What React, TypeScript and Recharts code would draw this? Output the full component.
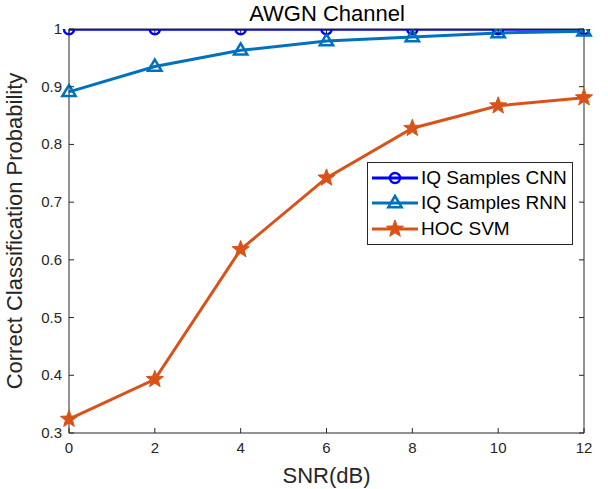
import React from 'react';
import {
  LineChart,
  Line,
  XAxis,
  YAxis,
} from 'recharts';

const snr = [0, 2, 4, 6, 8, 10, 12];
const cnnAcc = [0.9995, 0.9995, 0.9995, 0.9995, 0.9995, 0.9995, 0.9995];
const rnnAcc = [0.891, 0.935, 0.963, 0.979, 0.986, 0.993, 0.996];
const svmAcc = [0.324, 0.393, 0.618, 0.742, 0.828, 0.867, 0.881];
const yTicks = [0.3, 0.4, 0.5, 0.6, 0.7, 0.8, 0.9, 1];
const xTicks = [0, 2, 4, 6, 8, 10, 12];

const rows = snr.map((s, i) => ({ snr: s, cnn: cnnAcc[i], rnn: rnnAcc[i], svm: svmAcc[i] }));

const series = [
  { key: 'cnn', name: 'IQ Samples CNN', color: '#0000FF', marker: 'circle' },
  { key: 'rnn', name: 'IQ Samples RNN', color: '#0072BD', marker: 'triangle' },
  { key: 'svm', name: 'HOC SVM', color: '#D95319', marker: 'star' },
];

const FONT = '"Liberation Sans", Arial, sans-serif';
const AXIS = '#262626';

function starPath(cx: number, cy: number, ro: number, ri: number) {
  let d = '';
  for (let i = 0; i < 10; i++) {
    const r = i % 2 === 0 ? ro : ri;
    const a = -Math.PI / 2 + (i * Math.PI) / 5;
    d += (i === 0 ? 'M' : 'L') + (cx + r * Math.cos(a)).toFixed(2) + ',' + (cy + r * Math.sin(a)).toFixed(2);
  }
  return d + 'Z';
}

function Marker({ cx, cy, color, marker }: { cx: number; cy: number; color: string; marker: string }) {
  if (cx == null || cy == null) return null;
  if (marker === 'circle') {
    return <circle cx={cx} cy={cy} r={5} fill="none" stroke={color} strokeWidth={2.5} />;
  }
  if (marker === 'triangle') {
    const s = 7;
    return (
      <path
        d={`M${cx},${cy - s}L${cx + s * 0.95},${cy + s * 0.6}L${cx - s * 0.95},${cy + s * 0.6}Z`}
        fill="none"
        stroke={color}
        strokeWidth={2.5}
      />
    );
  }
  return <path d={starPath(cx, cy, 9, 3.8)} fill={color} stroke={color} strokeWidth={1} />;
}

const makeDot = (color: string, marker: string) => (props: any) => (
  <Marker key={props.index} cx={props.cx} cy={props.cy} color={color} marker={marker} />
);

const BottomTick = (props: any) => {
  const { x, y, payload } = props;
  const axisY = y - 8;
  return (
    <g>
      <line x1={x} x2={x} y1={axisY} y2={axisY - 5} stroke={AXIS} />
      <text x={x} y={axisY} dy={20} textAnchor="middle" fill={AXIS} fontSize={15} fontFamily={FONT}>
        {payload.value}
      </text>
    </g>
  );
};

const LeftTick = (props: any) => {
  const { x, y, payload } = props;
  const axisX = x + 7;
  return (
    <g>
      <line x1={axisX} x2={axisX + 5} y1={y} y2={y} stroke={AXIS} />
      <text x={x} y={y} dy={5} textAnchor="end" fill={AXIS} fontSize={15} fontFamily={FONT}>
        {payload.value}
      </text>
    </g>
  );
};

const TopTick = (props: any) => {
  const { x, y } = props;
  return <line x1={x} x2={x} y1={y} y2={y + 5} stroke={AXIS} />;
};

const RightTick = (props: any) => {
  const { x, y } = props;
  return <line x1={x} x2={x - 5} y1={y} y2={y} stroke={AXIS} />;
};

const LegendBox = () => (
  <div
    style={{
      position: 'absolute',
      left: 367,
      top: 162,
      border: '1px solid #262626',
      background: '#fff',
      width: 204,
      padding: '2px 0',
      fontFamily: FONT,
      fontSize: 19,
      color: '#000',
    }}
  >
    {series.map((s) => (
      <div key={s.key} style={{ display: 'flex', alignItems: 'center', height: 25.5 }}>
        <svg width={48} height={24} style={{ marginLeft: 3 }}>
          <line x1={1} x2={47} y1={12} y2={12} stroke={s.color} strokeWidth={3} />
          <Marker cx={24} cy={12} color={s.color} marker={s.marker} />
        </svg>
        <span style={{ marginLeft: 2 }}>{s.name}</span>
      </div>
    ))}
  </div>
);

export default function App() {
  return (
    <div style={{ position: 'absolute', left: 0, top: 0, width: 608, height: 489, background: '#fff' }}>
      <LineChart width={608} height={489} data={rows} margin={{ top: 28, right: 23, bottom: 0, left: 0 }}>
        <XAxis
          dataKey="snr"
          type="number"
          domain={[0, 12]}
          ticks={xTicks}
          stroke={AXIS}
          tickLine={false}
          tickSize={0}
          tickMargin={8}
          tick={BottomTick}
          height={56}
          label={{ value: 'SNR(dB)', position: 'insideBottom', offset: 6, fill: AXIS, fontSize: 22, fontFamily: FONT }}
        />
        <XAxis
          xAxisId="top"
          orientation="top"
          dataKey="snr"
          type="number"
          domain={[0, 12]}
          ticks={xTicks}
          stroke={AXIS}
          tickLine={false}
          tickSize={0}
          tickMargin={0}
          tick={TopTick}
          height={1}
        />
        <YAxis
          type="number"
          domain={[0.3, 1]}
          ticks={yTicks}
          stroke={AXIS}
          tickLine={false}
          tickSize={0}
          tickMargin={7}
          tick={LeftTick}
          width={69}
          allowDataOverflow
          label={{
            value: 'Correct Classification Probability',
            angle: -90,
            position: 'insideLeft',
            offset: 14,
            style: { textAnchor: 'middle' },
            fill: AXIS,
            fontSize: 22,
            fontFamily: FONT,
          }}
        />
        <YAxis
          yAxisId="right"
          orientation="right"
          type="number"
          domain={[0.3, 1]}
          ticks={yTicks}
          stroke={AXIS}
          tickLine={false}
          tickSize={0}
          tickMargin={0}
          tick={RightTick}
          width={1}
          allowDataOverflow
        />
        {series.map((s) => (
          <Line
            key={s.key}
            dataKey={s.key}
            name={s.name}
            xAxisId={s.key === 'svm' ? 'top' : 0}
            yAxisId={s.key === 'svm' ? 'right' : 0}
            stroke={s.color}
            strokeWidth={3}
            dot={makeDot(s.color, s.marker)}
            activeDot={false}
            isAnimationActive={false}
          />
        ))}
      </LineChart>
      <LegendBox />
      <div
        style={{
          position: 'absolute',
          left: 69,
          width: 516,
          top: 1,
          textAlign: 'center',
          fontFamily: FONT,
          fontSize: 22,
          color: '#000',
        }}
      >
        AWGN Channel
      </div>
    </div>
  );
}
